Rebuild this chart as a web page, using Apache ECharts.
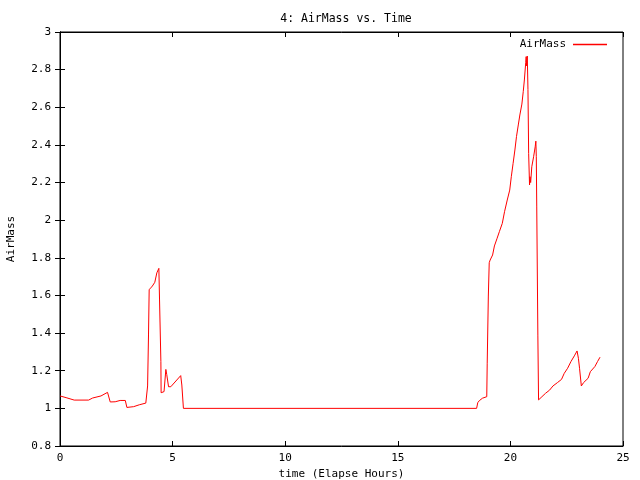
<!DOCTYPE html>
<html>
<head>
<meta charset="utf-8">
<script src="https://cdn.jsdelivr.net/npm/echarts@6/dist/echarts.min.js"></script>
<style>html,body{margin:0;padding:0;background:#fff}#c{width:640px;height:480px}</style>
</head>
<body>
<div id="c"></div>
<script>
var title = "4: AirMass vs. Time";
var seriesName = "AirMass";
var xName = "time (Elapse Hours)";
var yName = "AirMass";
var hours = [0, 0.27, 0.63, 1.27, 1.45, 1.82, 2.11, 2.23, 2.45, 2.67, 2.9, 2.97, 3.27, 3.52, 3.81, 3.89, 3.93, 3.96, 4.08, 4.21, 4.3, 4.39, 4.42, 4.48, 4.49, 4.62, 4.7, 4.74, 4.82, 4.92, 5.36, 5.41, 5.48,
  18.5, 18.55, 18.62, 18.76, 18.95, 18.97, 19.02, 19.06, 19.1, 19.21, 19.29, 19.41, 19.51, 19.64, 19.74, 19.86, 19.97, 20.04, 20.12, 20.2, 20.27, 20.35, 20.42, 20.51, 20.57, 20.62, 20.68, 20.7, 20.72, 20.75, 20.78, 20.81, 20.85, 20.87, 20.9, 20.95, 21.03, 21.1, 21.13, 21.15, 21.17, 21.22, 21.25, 21.4, 21.56, 21.74, 21.89, 22.09, 22.27, 22.39, 22.54, 22.69, 22.84, 22.96, 23.02, 23.07, 23.15, 23.25, 23.45, 23.55, 23.75, 23.87, 23.98];
var airmass = [1.066, 1.057, 1.044, 1.044, 1.055, 1.066, 1.085, 1.034, 1.035, 1.042, 1.042, 1.005, 1.009, 1.019, 1.028, 1.119, 1.39, 1.632, 1.646, 1.67, 1.72, 1.744, 1.576, 1.248, 1.083, 1.089, 1.207, 1.18, 1.115, 1.115, 1.174, 1.124, 1.0,
  1.0, 1.03, 1.041, 1.054, 1.062, 1.24, 1.597, 1.774, 1.788, 1.815, 1.863, 1.904, 1.939, 1.983, 2.045, 2.107, 2.16, 2.231, 2.302, 2.373, 2.444, 2.506, 2.559, 2.617, 2.683, 2.745, 2.837, 2.869, 2.82, 2.872, 2.695, 2.355, 2.187, 2.231, 2.2, 2.284, 2.337, 2.39, 2.42, 2.337, 2.075, 1.385, 1.045, 1.062, 1.08, 1.097, 1.119, 1.137, 1.154, 1.186, 1.213, 1.249, 1.279, 1.305, 1.266, 1.213, 1.119, 1.137, 1.16, 1.195, 1.222, 1.249, 1.272];
var xMin = 0, xMax = 25, xStep = 5;
var yMin = 0.8, yMax = 3, yStep = 0.2;

var font = "DejaVu Sans Mono";
var pts = hours.map(function (h, i) { return [h, airmass[i]]; });
var chart = echarts.init(document.getElementById('c'), null, {renderer: 'canvas'});
var tickStyle = {show: true, inside: true, length: 5, lineStyle: {color: '#000', width: 1}};
chart.setOption({
  animation: false,
  backgroundColor: '#fff',
  title: {text: title, left: 341, textAlign: 'center', top: 8, textStyle: {fontFamily: font, fontSize: 11.5, fontWeight: 'normal', color: '#000'}},
  legend: {
    data: [{name: seriesName, icon: 'rect'}], right: 28, top: 34, align: 'right',
    itemWidth: 34, itemHeight: 1.5, itemGap: 8,
    textStyle: {fontFamily: font, fontSize: 11, color: '#000', padding: [0, 2, 0, 0]}
  },
  grid: {left: 60, right: 17, top: 32, bottom: 34, containLabel: false, outerBoundsMode: 'none',
    show: true, borderColor: '#000', borderWidth: 1, backgroundColor: 'transparent'},
  xAxis: [{
    type: 'value', min: xMin, max: xMax, interval: xStep, position: 'bottom',
    name: xName, nameLocation: 'middle', nameGap: 23,
    nameTextStyle: {fontFamily: font, fontSize: 11, color: '#000'},
    axisLine: {show: true, lineStyle: {color: '#000'}}, axisTick: tickStyle,
    axisLabel: {fontFamily: font, fontSize: 11, color: '#000', margin: 7},
    splitLine: {show: false}
  }, {
    type: 'value', min: xMin, max: xMax, interval: xStep, position: 'top',
    axisLine: {show: true, lineStyle: {color: '#000'}}, axisTick: tickStyle,
    axisLabel: {show: false}, splitLine: {show: false}
  }],
  yAxis: [{
    type: 'value', min: yMin, max: yMax, interval: yStep, position: 'left',
    name: yName, nameLocation: 'middle', nameGap: 43, nameRotate: 90,
    nameTextStyle: {fontFamily: font, fontSize: 11, color: '#000'},
    axisLine: {show: true, lineStyle: {color: '#000'}}, axisTick: tickStyle,
    axisLabel: {fontFamily: font, fontSize: 11, color: '#000', margin: 9,
      formatter: function (v) { return String(Math.round(v * 10) / 10); }},
    splitLine: {show: false}
  }, {
    type: 'value', min: yMin, max: yMax, interval: yStep, position: 'right',
    axisLine: {show: true, lineStyle: {color: '#000'}}, axisTick: tickStyle,
    axisLabel: {show: false}, splitLine: {show: false}
  }],
  series: [{
    name: seriesName, type: 'line', data: pts, showSymbol: false, symbol: 'none',
    lineStyle: {color: '#ff0000', width: 1}, itemStyle: {color: '#ff0000'}
  }]
});
</script>
</body>
</html>
